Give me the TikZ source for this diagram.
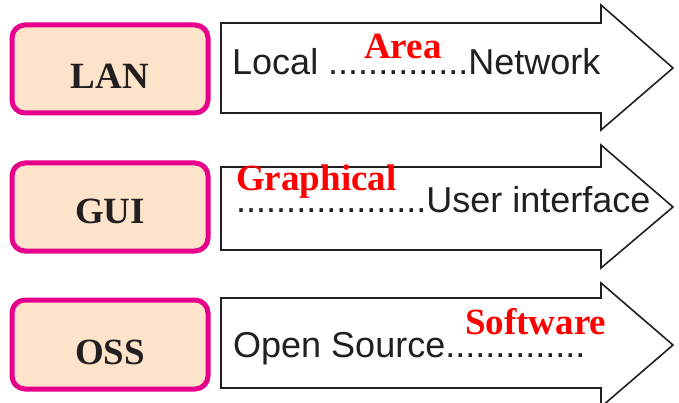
\documentclass[tikz,border=0pt]{standalone}
\usepackage{fontspec}
\setmainfont{Liberation Serif}
\newfontfamily\arialf{Liberation Sans}
\begin{document}
\begin{tikzpicture}[x=1pt,y=-1pt]
\definecolor{pinkb}{RGB}{230,0,140}
\definecolor{peach}{RGB}{253,227,201}
\definecolor{ink}{RGB}{35,31,32}
\tikzset{
  abbrbox/.style={draw=pinkb,fill=peach,line width=5pt,rounded corners=13pt},
  arrowshape/.style={draw=ink,fill=white,line width=1.6pt,line join=miter},
  abbr/.style={font=\fontsize{37}{40}\selectfont\bfseries,text=ink},
  expl/.style={anchor=base west,inner sep=0pt,font=\arialf\fontsize{36}{40}\selectfont,text=ink},
  answer/.style={anchor=base west,inner sep=0pt,font=\fontsize{37}{40}\selectfont\bfseries,text=red},
}
\useasboundingbox (0,0) rectangle (679,403);
\clip (0,0) rectangle (679,403);
% row 1
\draw[abbrbox] (12,25) rectangle (208,113);
\node[abbr] (lan) at (110,76) {LAN};
\draw[arrowshape] (221,23) -- (601,23) -- (601,5) -- (673,68) -- (601,130) -- (601,113) -- (221,113) -- cycle;
\node[expl] (t1) at (232,75) {Local ..............Network};
\node[answer] (f1) at (364,59) {Area};
% row 2
\draw[abbrbox] (12,163) rectangle (208,251);
\node[abbr] (gui) at (110,211) {GUI};
\draw[arrowshape] (221,167) -- (601,167) -- (601,145) -- (673,207) -- (601,268) -- (601,250) -- (221,250) -- cycle;
\node[expl] (t2) at (236,212) {...................User interface};
\node[answer] (f2) at (236,191) {Graphical};
% row 3
\draw[abbrbox] (12,300) rectangle (208,389);
\node[abbr] (oss) at (110,352) {OSS};
\draw[arrowshape] (221,298) -- (601,298) -- (601,283) -- (673,345) -- (601,407) -- (601,388) -- (221,388) -- cycle;
\node[expl] (t3) at (233,357) {Open Source..............};
\node[answer] (f3) at (465,334) {Software};
\end{tikzpicture}
\end{document}
